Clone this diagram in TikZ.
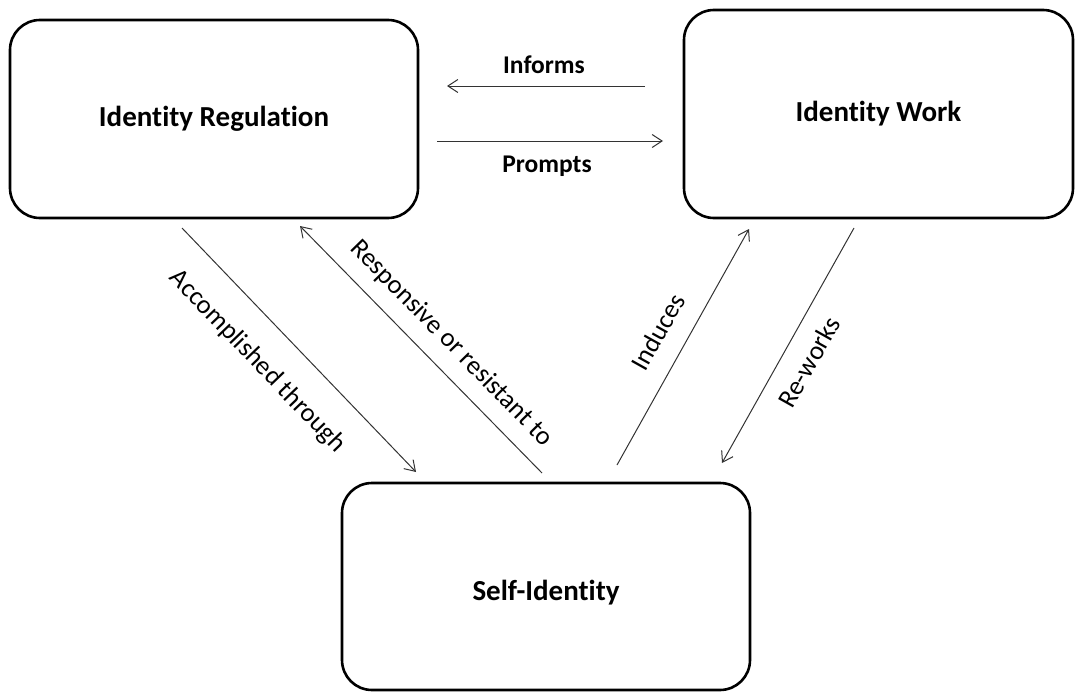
\documentclass[tikz,border=0pt]{standalone}
\usepackage{fontspec}
\setmainfont{Carlito}[Ligatures=NoCommon]
\usetikzlibrary{arrows.meta}
\begin{document}
\begin{tikzpicture}[x=1pt,y=-1pt,
  box/.style={draw=black, line width=2.6pt, rounded corners=30pt, inner sep=0pt,
    font=\fontsize{29}{34}\selectfont\bfseries},
  conn/.style={draw=black!80, line width=1pt, -{Straight Barb[length=10pt,width=13pt,line width=1pt]}},
  hlab/.style={font=\fontsize{25.5}{30}\selectfont\bfseries, inner sep=0pt},
  dlab/.style={font=\fontsize{26.5}{31}\selectfont, inner sep=0pt}]
\useasboundingbox (0,0) rectangle (1076,693);
\node[box, minimum width=408pt, minimum height=198pt] (reg) at (214,119) {Identity Regulation};
\node[box, minimum width=389pt, minimum height=208pt] (work) at (878.5,114) {Identity Work};
\node[box, minimum width=408pt, minimum height=207pt] (self) at (546,586.5) {};
\node[font=\fontsize{29}{34}\selectfont\bfseries, inner sep=0pt] (selft) at (546,593) {Self-Identity};
% endpoints
\coordinate (infS) at (645,86);  \coordinate (infE) at (447,86);
\coordinate (prS) at (437,141);  \coordinate (prE) at (663,141);
\coordinate (acS) at (182,228);  \coordinate (acE) at (416,472);
\coordinate (rsS) at (542,473);  \coordinate (rsE) at (300,226);
\coordinate (inS) at (617,465);  \coordinate (inE) at (749,229);
\coordinate (rwS) at (854,228);  \coordinate (rwE) at (722,463);
\draw[conn] (infS) -- (infE);
\draw[conn] (prS) -- (prE);
\draw[conn] (acS) -- (acE);
\draw[conn] (rsS) -- (rsE);
\draw[conn] (inS) -- (inE);
\draw[conn] (rwS) -- (rwE);
% labels
\node[hlab] (linf) at (544,65) {Informs};
\node[hlab] (lpr) at (547,166) {Prompts};
\node[dlab, rotate=-46.2] (lac) at (257.5,361.5) {Accomplished through};
\node[dlab, rotate=-45.6] (lrs) at (451.5,343.5) {Responsive or resistant to};
\node[dlab, rotate=60.8] (lin) at (658,332) {Induces};
\node[dlab, rotate=60.7] (lrw) at (809,362) {Re-works};
\end{tikzpicture}
\end{document}
